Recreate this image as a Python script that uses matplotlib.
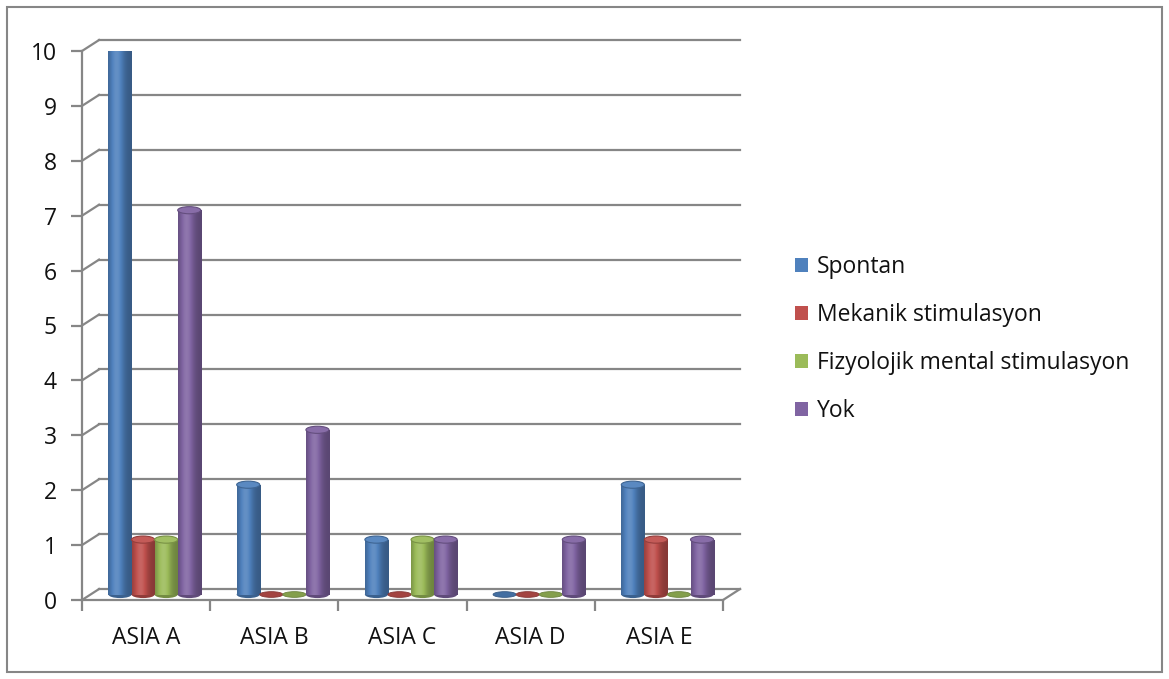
import math
import numpy as np
import matplotlib.pyplot as plt
from matplotlib.patches import Ellipse, Patch, Rectangle
from matplotlib.colors import to_rgb

categories = ['ASIA A', 'ASIA B', 'ASIA C', 'ASIA D', 'ASIA E']
series_names = ['Spontan', 'Mekanik stimulasyon', 'Fizyolojik mental stimulasyon', 'Yok']
spontan = [10, 2, 1, 0, 2]
mekanik = [1, 0, 0, 0, 1]
fizyolojik = [1, 0, 1, 0, 0]
yok = [7, 3, 1, 1, 1]
colors = ['#4F81BD', '#C0504D', '#9BBB59', '#8064A2']
yticks = list(range(0, 11))

plt.rcParams['font.family'] = ['Open Sans', 'DejaVu Sans']
GRID = '#868686'
TXT = '#111111'
FS = 16.5

# depth of the pseudo-3d box, in data units
DX, DY = 0.133, 0.2
W = 0.18          # bar width
CAP = 0.13        # height of the cylinder cap ellipse


def shade(c, f):
    r = to_rgb(c)
    if f < 1:
        return tuple(v * f for v in r)
    return tuple(v + (1 - v) * (f - 1) for v in r)


def profile(t):
    # darker at the rims, highlight a bit left of centre
    return 0.70 + 0.42 * math.exp(-((t - 0.36) / 0.30) ** 2)


def gradient(c, n=64):
    return np.array([[shade(c, profile((j + 0.5) / n)) for j in range(n)]])


fig = plt.figure(figsize=(11.69, 6.79), dpi=100)
ax = fig.add_axes([82 / 1169, 79 / 679, 641 / 1169, 549 / 679])
xmax = len(categories) - 0.5

# back wall gridlines and left wall diagonals
for y in yticks:
    ax.plot([-0.5 + DX, xmax + DX], [y + DY, y + DY],
            color=GRID, lw=1.6, clip_on=False, zorder=1)
    ax.plot([-0.5, -0.5 + DX], [y, y + DY], color=GRID, lw=1.6,
            clip_on=False, zorder=1)
# right edge of the floor
ax.plot([xmax, xmax + DX], [0, DY], color=GRID, lw=1.6, clip_on=False, zorder=1)

series = [spontan, mekanik, fizyolojik, yok]
z = 2
for i in range(len(categories)):
    for k, vals in enumerate(series):
        v = vals[i]
        c = colors[k]
        xc = i + (k - 1.5) * W + DX / 2
        base = DY / 2
        if v == 0:
            ax.add_patch(Ellipse((xc, base), W, CAP * 0.8, facecolor=shade(c, 0.85),
                                 edgecolor=shade(c, 0.7), lw=0.6, zorder=z))
            z += 1
            continue
        ax.add_patch(Ellipse((xc, base), W, CAP, facecolor=shade(c, 0.75),
                             edgecolor='none', zorder=z))
        ax.imshow(gradient(c), extent=(xc - W / 2, xc + W / 2, base, base + v),
                  aspect='auto', interpolation='bilinear', zorder=z + 1)
        ax.add_patch(Ellipse((xc, base + v), W, CAP, facecolor=shade(c, 1.06),
                             edgecolor=shade(c, 0.78), lw=0.8, zorder=z + 2))
        z += 3

ax.set_xlim(-0.5, xmax)
ax.set_ylim(0, 10)

for s in ['top', 'right']:
    ax.spines[s].set_visible(False)
for s in ['left', 'bottom']:
    ax.spines[s].set_color(GRID)
    ax.spines[s].set_linewidth(1.6)

ax.set_yticks(yticks)
ax.set_yticklabels([str(v) for v in yticks], fontsize=FS, color=TXT)
ax.tick_params(axis='y', length=8, width=1.6, color=GRID, pad=10)

ax.set_xticks([i - 0.5 for i in range(len(categories) + 1)])
ax.set_xticklabels([])
ax.set_xticks(range(len(categories)), minor=True)
ax.set_xticklabels(categories, minor=True, fontsize=FS, color=TXT)
ax.tick_params(axis='x', which='major', length=8, width=1.6, color=GRID)
ax.tick_params(axis='x', which='minor', length=0, pad=19)

handles = [Patch(facecolor=c, edgecolor='none') for c in colors]
fig.legend(handles, series_names, loc='upper left',
           bbox_to_anchor=(784 / 1169, 1 - 244 / 679), frameon=False,
           fontsize=FS, labelcolor=TXT, handlelength=0.55, handleheight=0.55,
           handletextpad=0.4, labelspacing=1.04, borderpad=0)

fig.patches.append(Rectangle((7 / 1169, 7 / 679), 1155 / 1169, 665 / 679,
                             transform=fig.transFigure, fill=False,
                             edgecolor=GRID, lw=1.5))

fig.savefig('out.png', dpi=100, facecolor='white')
